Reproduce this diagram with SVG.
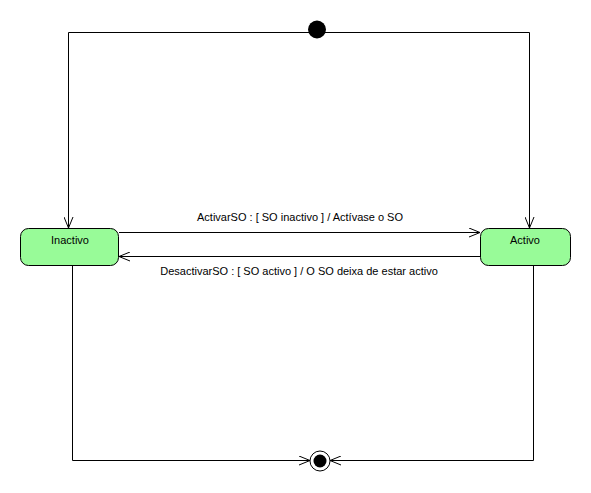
<svg xmlns="http://www.w3.org/2000/svg" width="591" height="493" viewBox="0 0 591 493">
<style>
.st{fill:#98fb98;stroke:#000;stroke-width:1}
.ln{fill:none;stroke:#000;stroke-width:1}
text{font-family:"Liberation Sans",Arial,sans-serif;font-size:11px;fill:#000}
</style>
<defs>
<marker id="arr" markerWidth="12" markerHeight="10" refX="11" refY="5" orient="auto" markerUnits="userSpaceOnUse">
<path d="M0,0.5 L11,5 L0,9.5" fill="none" stroke="#000" stroke-width="1"/>
</marker>
</defs>
<rect width="591" height="493" fill="#fff"/>
<g id="connectors">
<path class="ln" d="M317,32.5 H68.5 V228" marker-end="url(#arr)"/>
<path class="ln" d="M317,32.5 H529.5 V228" marker-end="url(#arr)"/>
<path class="ln" d="M119,232.5 H480" marker-end="url(#arr)"/>
<path class="ln" d="M480,256.5 H119" marker-end="url(#arr)"/>
<path class="ln" d="M72.5,266 V460.5 H310" marker-end="url(#arr)"/>
<path class="ln" d="M533.5,266 V460.5 H330" marker-end="url(#arr)"/>
<text x="300" y="221" text-anchor="middle">ActivarSO : [ SO inactivo ] / Actívase o SO</text>
<text x="299" y="275" text-anchor="middle">DesactivarSO : [ SO activo ] / O SO deixa de estar activo</text>
</g>
<g id="initial">
<circle cx="317" cy="29.5" r="9" fill="#000"/>
</g>
<g id="inactivo">
<rect class="st" x="20.5" y="228.5" width="98" height="37" rx="8"/>
<text x="70" y="244" text-anchor="middle">Inactivo</text>
</g>
<g id="activo">
<rect class="st" x="480.5" y="228.5" width="90" height="37" rx="8"/>
<text x="525" y="244" text-anchor="middle">Activo</text>
</g>
<g id="final">
<circle cx="320" cy="461" r="10" fill="#fff" stroke="#000"/>
<circle cx="320" cy="461" r="6.5" fill="#000"/>
</g>
</svg>
